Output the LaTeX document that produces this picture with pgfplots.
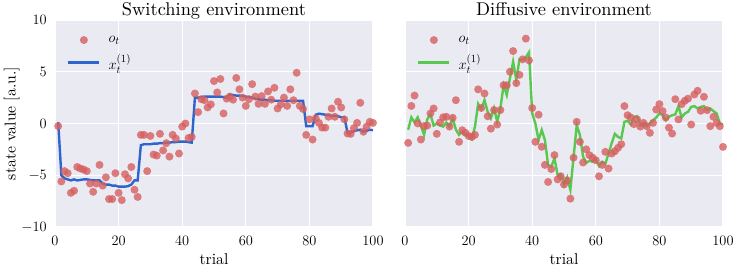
\documentclass[border=0pt]{standalone}
\usepackage{fontspec}
\setmainfont{lmroman10-regular.otf}
\usepackage{pgfplots}
\usepackage{pgfplotstable}
\pgfplotsset{compat=1.18}
\definecolor{bgc}{RGB}{234,234,242}
\definecolor{dotc}{RGB}{214,95,95}
\definecolor{bluec}{RGB}{45,100,205}
\definecolor{greenc}{RGB}{88,200,80}

\pgfplotstableread{
t obs est
1 -0.25 0.15
2 -5.6 -5.0
3 -4.6 -5.3
4 -4.8 -5.4
5 -6.7 -5.5
6 -6.5 -5.4
7 -4.2 -5.5
8 -4.35 -5.45
9 -4.45 -5.4
10 -4.6 -5.4
11 -5.8 -5.45
12 -6.6 -5.5
13 -5.8 -5.5
14 -4.0 -5.5
15 -6.0 -5.8
16 -5.2 -5.9
17 -7.3 -5.9
18 -7.3 -6.0
19 -4.8 -6.0
20 -6.7 -6.1
21 -7.4 -6.1
22 -4.9 -6.1
23 -5.3 -6.05
24 -4.2 -5.9
25 -6.4 -5.5
26 -7.1 -5.5
27 -1.1 -2.1
28 -1.1 -2.0
29 -4.6 -2.0
30 -1.2 -2.0
31 -3.0 -1.95
32 -3.1 -1.95
33 -1.0 -1.9
34 -2.6 -1.9
35 -1.9 -1.85
36 -3.2 -1.85
37 -1.1 -1.8
38 -1.45 -1.8
39 -2.9 -1.75
40 -0.3 -1.75
41 0.0 -1.75
42 -1.4 -1.8
43 -1.3 -1.85
44 2.9 2.5
45 1.1 2.5
46 2.35 2.55
47 2.25 2.6
48 1.55 2.6
49 1.85 2.6
50 4.1 2.6
51 3.0 2.6
52 4.3 2.6
53 0.97 2.55
54 2.4 2.5
55 2.6 2.8
56 2.3 2.75
57 4.4 2.7
58 3.3 2.7
59 2.5 2.65
60 1.7 2.6
61 2.35 2.55
62 3.8 2.5
63 2.6 2.4
64 1.9 2.35
65 2.65 2.3
66 1.9 2.3
67 3.1 2.25
68 2.3 2.25
69 3.45 2.2
70 1.45 2.2
71 1.85 2.2
72 2.5 2.2
73 1.7 2.2
74 3.3 2.2
75 2.25 2.2
76 4.9 2.2
77 1.7 2.2
78 1.4 2.2
79 -1.1 -0.25
80 0.4 -0.25
81 -1.55 -0.25
82 0.5 0.85
83 0.06 0.95
84 -0.4 0.9
85 -0.4 0.85
86 0.65 0.8
87 1.45 0.75
88 0.65 0.75
89 2.1 0.7
90 1.55 0.6
91 0.4 0.6
92 -0.97 -0.9
93 -1.0 -0.85
94 -0.45 -0.75
95 0.06 -0.65
96 2.0 -0.6
97 -0.8 -0.8
98 -0.3 -0.7
99 0.16 -0.6
100 0.06 -0.65
}\switchtab

\pgfplotstableread{
t obs est
1 -1.87 -0.6
2 1.7 0.6
3 2.7 0.1
4 0.0 0.6
5 -1.55 -0.2
6 -0.25 -1.1
7 -0.2 0.4
8 0.97 0.9
9 1.45 -0.2
10 -1.0 0.0
11 0.1 -0.2
12 0.6 -0.3
13 0.65 0.1
14 -0.3 -0.3
15 0.55 0.5
16 2.25 -0.6
17 -1.77 -1.1
18 -0.65 -0.8
19 -0.9 -1.1
20 -1.2 -1.2
21 -1.3 -1.5
22 -1.1 -0.3
23 3.3 1.9
24 1.5 1.4
25 2.9 2.27
26 0.7 1.14
27 -0.5 0.5
28 1.3 1.47
29 -0.1 0.17
30 1.3 1.47
31 3.7 3.7
32 3.7 2.75
33 5.0 4.37
34 7.0 5.97
35 3.9 4.2
36 4.7 6.2
37 6.2 6.15
38 8.2 6.4
39 6.1 6.88
40 1.5 0.98
41 -1.77 0.0
42 0.85 -1.6
43 -2.25 -0.63
44 -4.0 -1.6
45 -5.65 -4.0
46 -4.4 -4.17
47 -3.05 -3.37
48 -5.4 -4.98
49 -5.1 -4.9
50 -5.9 -5.9
51 -5.5 -5.2
52 -7.26 -6.4
53 -3.3 -3.3
54 0.16 -0.16
55 -1.77 -1.1
56 -3.77 -3.2
57 -2.5 -3.8
58 -3.06 -3.6
59 -3.3 -3.7
60 -3.55 -3.5
61 -5.1 -4.1
62 -4.0 -3.7
63 -2.74 -3.9
64 -4.35 -2.9
65 -2.9 -1.9
66 -2.68 -1.0
67 -2.35 -1.3
68 -2.0 -1.45
69 1.68 0.16
70 0.8 0.26
71 0.58 -0.1
72 -0.06 0.65
73 0.39 0.7
74 -0.3 -0.16
75 0.06 0.06
76 -0.26 -0.26
77 -0.9 0.0
78 0.06 0.3
79 1.35 0.58
80 1.87 0.97
81 1.2 0.8
82 0.58 0.3
83 -0.4 0.65
84 -0.97 0.8
85 2.35 0.87
86 0.39 1.68
87 1.87 0.58
88 2.2 0.97
89 2.4 1.13
90 -0.1 1.6
91 2.8 1.68
92 3.16 1.45
93 1.23 1.6
94 2.58 1.68
95 1.29 1.3
96 -0.26 1.45
97 0.65 1.2
98 0.06 0.97
99 -0.26 0.0
100 -2.26 -0.1
}\diffusetab

\pgfplotsset{sb/.style={
  scale only axis, width=318pt, height=207pt,
  xmin=0, xmax=100, ymin=-10, ymax=10,
  xtick={0,20,...,100}, ytick={-10,-5,...,10},
  axis background/.style={fill=bgc},
  axis line style={draw=none},
  tick style={draw=none},
  grid=major, major grid style={white, line width=1.3pt},
  tick label style={font=\fontsize{15}{18}\selectfont},
  xticklabel style={anchor=base, inner sep=0pt, yshift=-18.3pt},
  yticklabel style={anchor=east, inner sep=0pt, xshift=-8pt},
  every axis title shift=0pt,
  title style={at={(axis description cs:0.5,1)}, anchor=base, inner sep=0pt, yshift=5pt, font=\fontsize{18.4}{22}\selectfont},
  every axis x label/.style={at={(axis description cs:0.5,0)}, anchor=base, yshift=-37pt, font=\fontsize{15.7}{19}\selectfont},
  every axis y label/.style={at={(axis description cs:-0.136,0.5)}, rotate=90, anchor=center, font=\fontsize{15.7}{19}\selectfont},
  legend style={at={(axis description cs:0,1)}, anchor=north west, xshift=12pt, yshift=-14pt,
    draw=none, fill=none, inner sep=0pt, row sep=6pt, font=\fontsize{15}{18}\selectfont},
  legend cell align=left,
  legend image code/.code={\draw[mark repeat=2,mark phase=2,##1] plot coordinates {(0pt,0pt)(15.5pt,0pt)(31pt,0pt)}; \path (37pt,0pt);},
  dots/.style={only marks, mark=*, mark size=4pt, color=dotc, mark options={fill=dotc, fill opacity=0.8, draw opacity=0}},
}}

\begin{document}
\begin{tikzpicture}
\useasboundingbox (-55pt,-41pt) rectangle (682pt,227pt);
\begin{axis}[sb, title={Switching environment}, xlabel={trial}, ylabel={state value [a.u.]}]
  \addplot[dots] table[x=t, y=obs] {\switchtab};
  \addlegendentry{$o_t$}
  \addplot[color=bluec, line width=2.4pt, no marks] table[x=t, y=est] {\switchtab};
  \addlegendentry{$x_t^{(1)}$}
\end{axis}
\begin{axis}[sb, xshift=350pt, title={Diffusive environment}, xlabel={trial}, yticklabels={}]
  \addplot[dots] table[x=t, y=obs] {\diffusetab};
  \addlegendentry{$o_t$}
  \addplot[color=greenc, line width=2.4pt, no marks] table[x=t, y=est] {\diffusetab};
  \addlegendentry{$x_t^{(1)}$}
\end{axis}
\end{tikzpicture}
\end{document}
